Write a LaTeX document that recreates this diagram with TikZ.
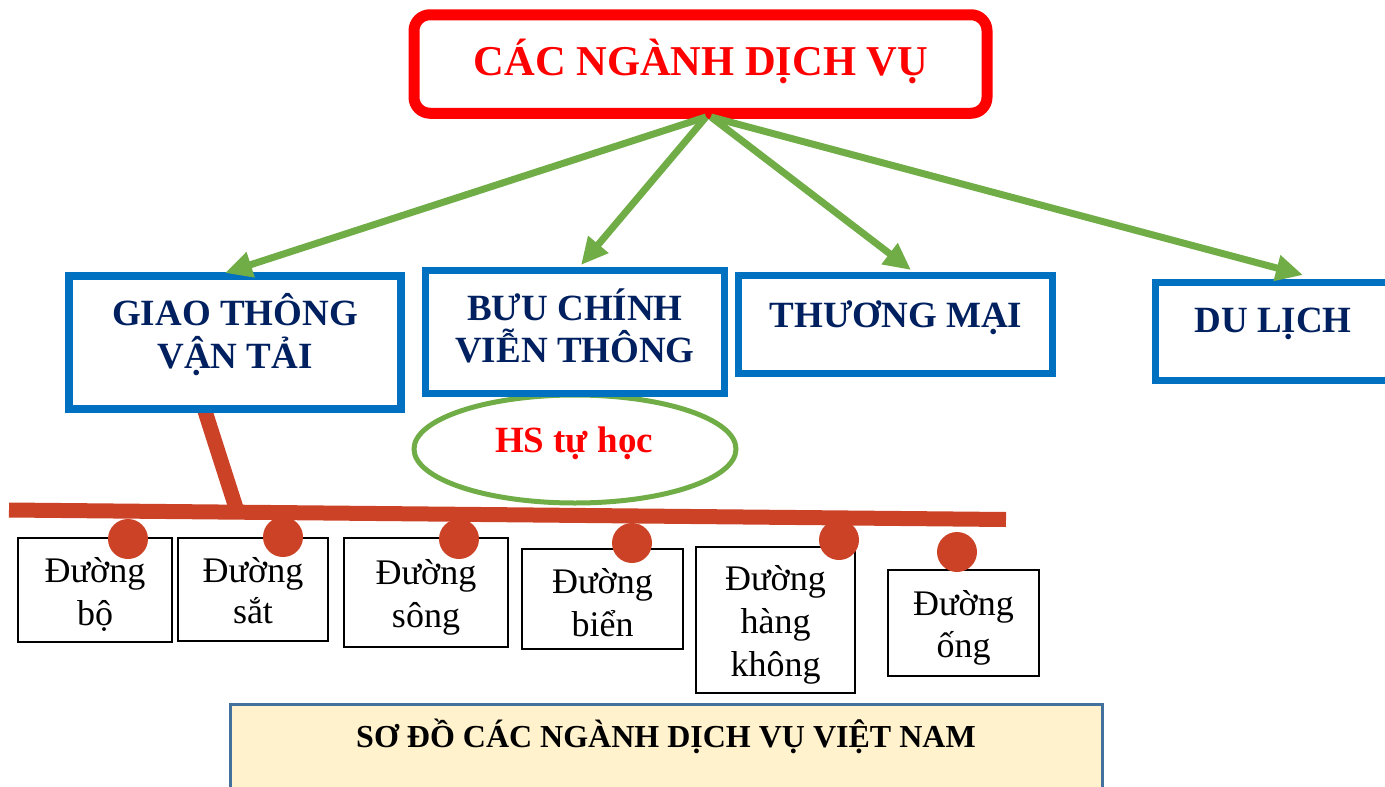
\documentclass[tikz,border=0pt]{standalone}
\usepackage{fontspec}
\setmainfont{Liberation Serif}
\usetikzlibrary{arrows.meta,shapes.geometric}
\definecolor{grn}{HTML}{70AD47}
\definecolor{blu}{HTML}{0070C0}
\definecolor{navy}{HTML}{002060}
\definecolor{rust}{HTML}{CC4226}
\definecolor{titlered}{HTML}{FF0000}
\definecolor{capfill}{HTML}{FFF2CC}
\definecolor{capline}{HTML}{41719C}
\tikzset{
  arr/.style={draw=grn, line width=7pt, -{Triangle[length=27pt,width=25pt]}},
  bluebox/.style={draw=blu, line width=7pt, fill=white, inner sep=0pt, rectangle},
  head/.style={font=\fontsize{37}{43}\selectfont\bfseries, text=navy, anchor=base, inner sep=0pt},
  smalltxt/.style={font=\fontsize{36}{43}\selectfont, text=black, anchor=base, inner sep=0pt},
  thinbox/.style={draw=black, line width=1.5pt, fill=white, inner sep=0pt, rectangle},
  dot/.style={circle, fill=rust, minimum size=40pt, inner sep=0pt},
  barline/.style={draw=rust, line width=15pt}
}
\begin{document}
\begin{tikzpicture}[x=1pt,y=-1pt]
\useasboundingbox (0,0) rectangle (1385,787);
\clip (0,0) rectangle (1385,787);

% title
\node[draw=titlered, line width=11pt, rounded corners=16pt, minimum width=573pt, minimum height=98.5pt, inner sep=0pt] (title) at (700.5,64) {};
\node[font=\fontsize{42.5}{48}\selectfont\bfseries, text=titlered, anchor=base, inner sep=0pt] (titletxt) at (701,75) {CÁC NGÀNH DỊCH VỤ};

% ellipse (behind box)
\node[ellipse, draw=grn, line width=5pt, minimum width=322pt, minimum height=108pt, inner sep=0pt] (hs) at (575,449) {};
\node[font=\fontsize{37}{43}\selectfont\bfseries, text=titlered, anchor=base, inner sep=0pt] (hstxt) at (574,452) {HS tự học};

% stem and bar
\coordinate (stemtop) at (204,408);
\coordinate (stembot) at (237,511);
\coordinate (barL) at (9,510);
\coordinate (barR) at (1006,519.5);
\draw[barline] (stemtop) -- (stembot);
\draw[barline] (barL) -- (barR);

% blue boxes
\node[bluebox, line width=8pt, minimum width=332pt, minimum height=133pt] (gt) at (235,342.5) {};
\node[head] (gt1) at (235,325) {GIAO THÔNG};
\node[head] (gt2) at (235,368) {VẬN TẢI};

\node[bluebox, minimum width=299pt, minimum height=123pt] (bc) at (575,332) {};
\node[head] (bc1) at (575,320) {BƯU CHÍNH};
\node[head] (bc2) at (575,362) {VIỄN THÔNG};

\node[bluebox, minimum width=314pt, minimum height=98pt] (tm) at (895.5,324.5) {};
\node[head] (tm1) at (896,327) {THƯƠNG MẠI};

\node[bluebox, minimum width=264.5pt, minimum height=98pt] (dl) at (1287.75,331.5) {};
\node[head] (dl1) at (1273,332) {DU LỊCH};

% arrows
\coordinate (srcL) at (706,117);
\coordinate (srcR) at (711,117);
\coordinate (tgt1) at (225,273);
\coordinate (tgt2) at (581,265);
\coordinate (tgt3) at (911,270);
\coordinate (tgt4) at (1303,275);
\draw[arr] (srcL) -- (tgt1);
\draw[arr] (srcL) -- (tgt2);
\draw[arr] (srcR) -- (tgt3);
\draw[arr] (srcR) -- (tgt4);

% small boxes
\node[thinbox, minimum width=154pt, minimum height=104pt] (bo) at (95,590) {};
\node[smalltxt] at (95,582) {Đường};
\node[smalltxt] at (95,625) {bộ};

\node[thinbox, minimum width=150pt, minimum height=103pt] (sat) at (253,589.5) {};
\node[smalltxt] at (253,582) {Đường};
\node[smalltxt] at (253,623) {sắt};

\node[thinbox, minimum width=164pt, minimum height=109pt] (song) at (426,592.5) {};
\node[smalltxt] at (426,584) {Đường};
\node[smalltxt] at (426,627) {sông};

\node[thinbox, minimum width=161pt, minimum height=100pt] (bien) at (602.5,599) {};
\node[smalltxt] at (602.5,593) {Đường};
\node[smalltxt] at (602.5,636) {biển};

\node[thinbox, minimum width=159pt, minimum height=146pt] (hk) at (775.5,620) {};
\node[smalltxt] at (775.5,590) {Đường};
\node[smalltxt] at (775.5,633) {hàng};
\node[smalltxt] at (775.5,676) {không};

\node[thinbox, minimum width=151pt, minimum height=106pt] (ong) at (963.5,623) {};
\node[smalltxt] at (963.5,615) {Đường};
\node[smalltxt] at (963.5,657) {ống};

% dots
\node[dot] (d1) at (128,539) {};
\node[dot] (d2) at (283,537) {};
\node[dot] (d3) at (459,539) {};
\node[dot] (d4) at (632,543) {};
\node[dot] (d5) at (839,540) {};
\node[dot] (d6) at (957,552) {};

% caption
\node[draw=capline, fill=capfill, line width=3pt, minimum width=872pt, minimum height=95pt, inner sep=0pt] (cap) at (666.5,752) {};
\node[font=\fontsize{32}{38}\selectfont\bfseries, text=black, anchor=base, inner sep=0pt] (captxt) at (666,747) {SƠ ĐỒ CÁC NGÀNH DỊCH VỤ VIỆT NAM};
\end{tikzpicture}
\end{document}
